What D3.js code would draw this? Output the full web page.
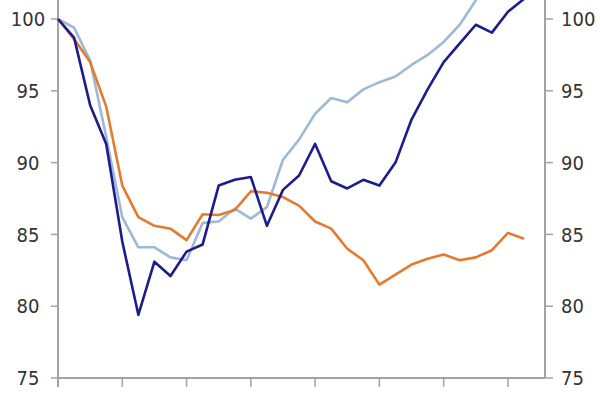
<!DOCTYPE html>
<html>
<head>
<meta charset="utf-8">
<script src="https://cdn.jsdelivr.net/npm/d3@7"></script>
<style>
  body { margin: 0; background: #fff; }
  text { font-family: "DejaVu Sans Condensed", "DejaVu Sans", sans-serif; fill: #333; }
</style>
</head>
<body>
<div id="chart"></div>
<script>
// quarterly index, start = 100
const quarters = d3.range(30);
const darkBlue = [100, 98.7, 94.0, 91.3, 84.5, 79.4, 83.1, 82.1, 83.8, 84.3,
                  88.4, 88.8, 89.0, 85.6, 88.1, 89.1, 91.3, 88.7, 88.2, 88.8,
                  88.4, 90.0, 93.0, 95.1, 97.0, 98.3, 99.6, 99.05, 100.5, 101.4];
const lightBlue = [100, 99.4, 97.1, 91.8, 86.2, 84.1, 84.1, 83.4, 83.2, 85.8,
                   85.9, 86.8, 86.1, 86.9, 90.2, 91.6, 93.4, 94.5, 94.2, 95.1,
                   95.6, 96.0, 96.8, 97.5, 98.4, 99.6, 101.3, 102.8, 104.2, 105.5];
const orange = [100, 98.6, 97.0, 93.9, 88.4, 86.2, 85.6, 85.4, 84.6, 86.4,
                86.35, 86.7, 88.0, 87.9, 87.6, 87.0, 85.9, 85.4, 84.0, 83.2,
                81.5, 82.2, 82.9, 83.3, 83.6, 83.2, 83.4, 83.9, 85.1, 84.7];
const yTicks = [75, 80, 85, 90, 95, 100];
const xTicks = [0, 4, 8, 12, 16, 20, 24, 28];

const width = 600, height = 400;
const left = 58, right = 545, bottom = 378;
const step = 16.07; // px per quarter

const svg = d3.select("#chart").append("svg")
  .attr("width", width).attr("height", height);

const x = d3.scaleLinear().domain([0, (right - left) / step]).range([left, right]);
const y = d3.scaleLinear().domain([75, 100]).range([bottom, 19]);

const axisColor = "#a3a3a3";

// axis lines
svg.append("line").attr("x1", left).attr("x2", left).attr("y1", 0).attr("y2", bottom + 9)
  .attr("stroke", axisColor).attr("stroke-width", 2);
svg.append("line").attr("x1", right).attr("x2", right).attr("y1", 0).attr("y2", bottom)
  .attr("stroke", axisColor).attr("stroke-width", 2);
svg.append("line").attr("x1", left).attr("x2", right).attr("y1", bottom).attr("y2", bottom)
  .attr("stroke", axisColor).attr("stroke-width", 2);

// y ticks both sides
svg.selectAll(".ltick").data(yTicks).enter().append("line")
  .attr("x1", left - 7).attr("x2", left)
  .attr("y1", d => y(d)).attr("y2", d => y(d))
  .attr("stroke", axisColor).attr("stroke-width", 1.5);
svg.selectAll(".rtick").data(yTicks).enter().append("line")
  .attr("x1", right).attr("x2", right + 8)
  .attr("y1", d => y(d)).attr("y2", d => y(d))
  .attr("stroke", axisColor).attr("stroke-width", 1.5);

svg.selectAll(".llab").data(yTicks).enter().append("text")
  .attr("x", 28).attr("y", d => y(d)).attr("dy", "0.36em")
  .attr("text-anchor", "middle").attr("font-size", 20)
  .text(d => d);
svg.selectAll(".rlab").data(yTicks).enter().append("text")
  .attr("x", 561).attr("y", d => y(d)).attr("dy", "0.36em")
  .attr("text-anchor", "start").attr("font-size", 20)
  .text(d => d);

// x ticks
svg.selectAll(".xtick").data(xTicks.slice(1)).enter().append("line")
  .attr("x1", d => x(d)).attr("x2", d => x(d))
  .attr("y1", bottom).attr("y2", bottom + 9)
  .attr("stroke", axisColor).attr("stroke-width", 1.5);

// lines
const line = d3.line().x((d, i) => x(quarters[i])).y(d => y(d));

const series = [
  { values: lightBlue, color: "#9cbad5" },
  { values: orange, color: "#e47a30" },
  { values: darkBlue, color: "#1c1c8a" }
];

svg.selectAll(".series").data(series).enter().append("path")
  .attr("d", d => line(d.values))
  .attr("fill", "none")
  .attr("stroke", d => d.color)
  .attr("stroke-width", 2.6)
  .attr("stroke-linejoin", "round");
</script>
</body>
</html>
